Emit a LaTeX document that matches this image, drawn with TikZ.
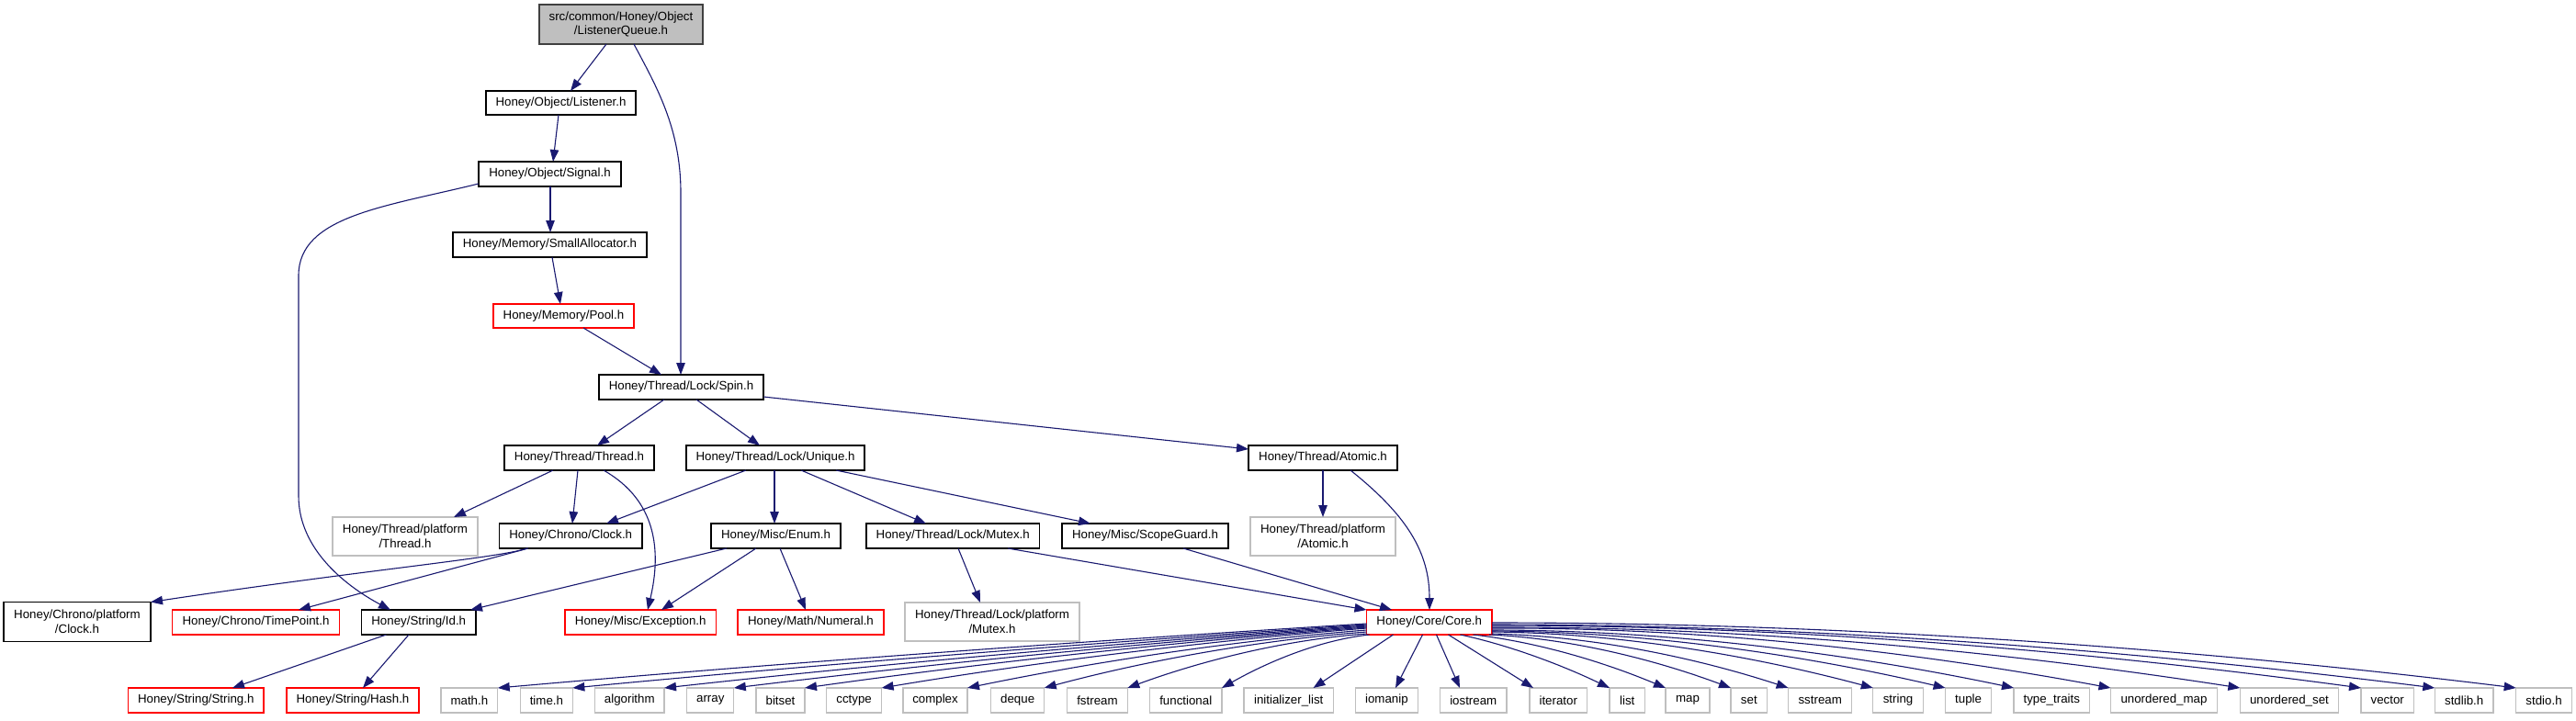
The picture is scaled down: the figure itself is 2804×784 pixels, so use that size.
\documentclass[tikz,border=0pt]{standalone}
\usepackage{fontspec}
\setmainfont{Liberation Sans}
\usetikzlibrary{arrows.meta,calc}
\definecolor{edgec}{HTML}{191970}
\definecolor{lgray}{HTML}{BFBFBF}
\definecolor{dgray}{HTML}{404040}
\definecolor{rboxc}{HTML}{FF0000}
\newcommand\nd[7]{\node[#6,minimum width={(#3-#2)*1pt},minimum height={(#5-#4)*1pt}] (#1) at ({(#2+#3)/2},{(#4+#5)/2}) {#7};}
\newcommand\fan[4]{\draw[edge] (#1) .. controls ($(#1)!0.35!(#2)+(0,-#3)$) and ($(#1)!0.7!(#2)+(0,-#4)$) .. (#2);}
\begin{document}
\begin{tikzpicture}[x=1pt,y=-1pt,
  base/.style={inner sep=0pt,outer sep=0pt,align=center,line width=1.3pt,fill=white,
    font=\fontsize{13.3}{15.6}\selectfont},
  box/.style={base,draw=black},
  gbox/.style={base,draw=lgray},
  rbox/.style={base,draw=rboxc},
  topbox/.style={base,draw=dgray,fill=lgray},
  edge/.style={draw=edgec,line width=1.1pt,-{Triangle[length=13pt,width=9.5pt]}}]
\fill[white] (0,0) rectangle (2804,784);
\useasboundingbox (0,0) rectangle (2804,784);
% nodes
\nd{lq}{587}{765}{5}{48}{topbox}{src/common/Honey/Object\\/ListenerQueue.h}
\nd{listener}{529}{692}{99}{125}{box}{Honey/Object/Listener.h}
\nd{signal}{521}{676}{176}{203}{box}{Honey/Object/Signal.h}
\nd{smalloc}{493}{704}{253}{280}{box}{Honey/Memory/SmallAllocator.h}
\nd{pool}{537}{690}{331}{357}{rbox}{Honey/Memory/Pool.h}
\nd{spin}{652}{831}{408}{435}{box}{Honey/Thread/Lock/Spin.h}
\nd{thread}{549}{712}{485}{512}{box}{Honey/Thread/Thread.h}
\nd{unique}{747}{941}{485}{512}{box}{Honey/Thread/Lock/Unique.h}
\nd{atomic}{1359}{1521}{485}{512}{box}{Honey/Thread/Atomic.h}
\nd{threadplat}{362}{520}{563}{605}{gbox}{Honey/Thread/platform\\/Thread.h}
\nd{clock}{543.5}{699}{570}{597}{box}{Honey/Chrono/Clock.h}
\nd{enum}{774}{915}{570}{597}{box}{Honey/Misc/Enum.h}
\nd{mutex}{943}{1131.5}{570}{597}{box}{Honey/Thread/Lock/Mutex.h}
\nd{scope}{1156}{1337}{570}{597}{box}{Honey/Misc/ScopeGuard.h}
\nd{atomicplat}{1361}{1519}{563}{605}{gbox}{Honey/Thread/platform\\/Atomic.h}
\nd{chronoplat}{4}{164}{655.5}{698.5}{box}{Honey/Chrono/platform\\/Clock.h}
\nd{timepoint}{187.5}{369.5}{664}{691}{rbox}{Honey/Chrono/TimePoint.h}
\nd{id}{393.5}{518}{664}{691}{box}{Honey/String/Id.h}
\nd{exception}{615}{779.5}{664}{691}{rbox}{Honey/Misc/Exception.h}
\nd{numeral}{803}{962}{664}{691}{rbox}{Honey/Math/Numeral.h}
\nd{mutexplat}{985}{1175}{656}{698}{gbox}{Honey/Thread/Lock/platform\\/Mutex.h}
\nd{core}{1487.5}{1624}{664}{691}{rbox}{Honey/Core/Core.h}
\nd{stringh}{139.5}{287}{749}{776}{rbox}{Honey/String/String.h}
\nd{hash}{312}{456}{749}{776}{rbox}{Honey/String/Hash.h}
\nd{math}{480}{541.7}{749}{776}{gbox}{math.h}
\nd{time}{566.5}{623.3}{749}{776}{gbox}{time.h}
\nd{algorithm}{647.6}{723}{749}{776}{gbox}{algorithm}
\nd{array}{747.7}{798.8}{749}{776}{gbox}{array}
\nd{bitset}{823}{876}{749}{776}{gbox}{bitset}
\nd{cctype}{899.6}{959.6}{749}{776}{gbox}{cctype}
\nd{complex}{983}{1053}{749}{776}{gbox}{complex}
\nd{deque}{1078.6}{1136.7}{749}{776}{gbox}{deque}
\nd{fstream}{1161.6}{1227.3}{749}{776}{gbox}{fstream}
\nd{functional}{1251.5}{1330}{749}{776}{gbox}{functional}
\nd{initlist}{1354}{1451.5}{749}{776}{gbox}{initializer\_list}
\nd{iomanip}{1475.5}{1543.3}{749}{776}{gbox}{iomanip}
\nd{iostream}{1567.5}{1640}{749}{776}{gbox}{iostream}
\nd{iterator}{1665}{1727.5}{749}{776}{gbox}{iterator}
\nd{list}{1752}{1790.5}{749}{776}{gbox}{list}
\nd{map}{1813}{1861}{749}{776}{gbox}{map}
\nd{set}{1884}{1923.6}{749}{776}{gbox}{set}
\nd{sstream}{1946.6}{2015.8}{749}{776}{gbox}{sstream}
\nd{string}{2038.8}{2093.3}{749}{776}{gbox}{string}
\nd{tuple}{2117.6}{2167.5}{749}{776}{gbox}{tuple}
\nd{typetraits}{2192}{2274.5}{749}{776}{gbox}{type\_traits}
\nd{umap}{2297.5}{2413.4}{749}{776}{gbox}{unordered\_map}
\nd{uset}{2438.4}{2545.5}{749}{776}{gbox}{unordered\_set}
\nd{vector}{2570}{2627.5}{749}{776}{gbox}{vector}
\nd{stdlib}{2650.3}{2714}{749}{776}{gbox}{stdlib.h}
\nd{stdio}{2738.7}{2799.4}{749}{776}{gbox}{stdio.h}
% edges
\draw[edge] ([xshift=73pt]lq.south west) -- ([xshift=92pt]listener.north west);
\draw[edge] ([xshift=103pt]lq.south west) .. controls (715,95) and (741,140) .. (741,210) -- ([xshift=89pt]spin.north west);
\draw[edge] ([xshift=79pt]listener.south west) -- ([xshift=81pt]signal.north west);
\draw[edge] ([xshift=78pt]signal.south west) -- ([xshift=106pt]smalloc.north west);
\draw[edge] ([yshift=3pt]signal.south west) .. controls (420,225) and (325,235) .. (325,300) -- (325,540) .. controls (325,600) and (380,640) .. ([xshift=31.5pt]id.north west);
\draw[edge] ([xshift=108pt]smalloc.south west) -- ([xshift=73pt]pool.north west);
\draw[edge] ([xshift=98pt]pool.south west) -- ([xshift=68pt]spin.north west);
\draw[edge] ([xshift=71pt]spin.south west) -- ([xshift=101pt]thread.north west);
\draw[edge] ([xshift=106pt]spin.south west) -- ([xshift=80pt]unique.north west);
\draw[edge] ([yshift=3pt]spin.south east) -- ([yshift=-4pt]atomic.north west);
\draw[edge] ([xshift=53pt]thread.south west) -- ([xshift=132pt]threadplat.north west);
\draw[edge] ([xshift=80pt]thread.south west) -- ([xshift=79.5pt]clock.north west);
\draw[edge] ([xshift=108pt]thread.south west) .. controls (715,545) and (720,600) .. ([xshift=90pt]exception.north west);
\draw[edge] ([xshift=65pt]unique.south west) -- ([xshift=116.5pt]clock.north west);
\draw[edge] ([xshift=96pt]unique.south west) -- ([xshift=69pt]enum.north west);
\draw[edge] ([xshift=125pt]unique.south west) -- ([xshift=65pt]mutex.north west);
\draw[edge] ([xshift=163pt]unique.south west) -- ([xshift=31pt]scope.north west);
\draw[edge] ([xshift=81pt]atomic.south west) -- ([xshift=79pt]atomicplat.north west);
\draw[edge] ([xshift=111pt]atomic.south west) .. controls (1530,560) and (1556,600) .. ([xshift=68.5pt]core.north west);
\draw[edge] ([xshift=30.5pt]clock.south west) .. controls (540,608) and (400,620) .. (chronoplat.north east);
\draw[edge] ([xshift=31.5pt]clock.south west) -- ([xshift=137.5pt]timepoint.north west);
\draw[edge] ([xshift=17pt]enum.south west) -- ([xshift=118.5pt]id.north west);
\draw[edge] ([xshift=49pt]enum.south west) -- ([xshift=105pt]exception.north west);
\draw[edge] ([xshift=75pt]enum.south west) -- ([xshift=74pt]numeral.north west);
\draw[edge] ([xshift=100pt]mutex.south west) -- ([xshift=82pt]mutexplat.north west);
\draw[edge] ([xshift=154pt]mutex.south west) -- (core.north west);
\draw[edge] ([xshift=132pt]scope.south west) -- ([xshift=27.5pt]core.north west);
\draw[edge] ([xshift=27pt]id.south west) -- ([xshift=113.5pt]stringh.north west);
\draw[edge] ([xshift=51.5pt]id.south west) -- ([xshift=83pt]hash.north west);
% Core fan-out start points on the Core box
\coordinate (cL12) at ([yshift=12pt]core.south west);
\coordinate (cL11) at ([yshift=11pt]core.south west);
\coordinate (cL10) at ([yshift=10pt]core.south west);
\coordinate (cL9) at ([yshift=9pt]core.south west);
\coordinate (cL8) at ([yshift=8pt]core.south west);
\coordinate (cL7) at ([yshift=7pt]core.south west);
\coordinate (cL5) at ([yshift=5pt]core.south west);
\coordinate (cL3) at ([yshift=3pt]core.south west);
\coordinate (cL1) at ([yshift=1pt]core.south west);
\coordinate (cB3) at ([xshift=3pt]core.south west);
\coordinate (cB102) at ([xshift=102pt]core.south west);
\coordinate (cB116) at ([xshift=116pt]core.south west);
\coordinate (cB133) at ([xshift=-3pt]core.south east);
\coordinate (cR1) at ([yshift=1pt]core.south east);
\coordinate (cR3) at ([yshift=3pt]core.south east);
\coordinate (cR4) at ([yshift=4pt]core.south east);
\coordinate (cR5) at ([yshift=5pt]core.south east);
\coordinate (cR7) at ([yshift=7pt]core.south east);
\coordinate (cR8) at ([yshift=8pt]core.south east);
\coordinate (cR10) at ([yshift=10pt]core.south east);
\coordinate (cR11) at ([yshift=11pt]core.south east);
\coordinate (cR13) at ([yshift=13pt]core.south east);
\fan{cL12}{math.north east}{4}{4}
\fan{cL11}{time.north east}{4}{4}
\fan{cL10}{algorithm.north east}{5}{5}
\fan{cL9}{array.north east}{6}{5}
\fan{cL8}{bitset.north east}{7}{6}
\fan{cL7}{cctype.north east}{8}{7}
\fan{cL5}{complex.north east}{10}{8}
\fan{cL3}{deque.north east}{12}{10}
\fan{cL1}{fstream.north east}{14}{11}
\fan{cB3}{functional.north east}{14}{10}
\draw[edge] ([xshift=29pt]core.south west) -- ([xshift=75.5pt]initlist.north west);
\draw[edge] ([xshift=61pt]core.south west) -- ([xshift=43.5pt]iomanip.north west);
\draw[edge] ([xshift=76pt]core.south west) -- ([xshift=21.5pt]iostream.north west);
\draw[edge] ([xshift=89pt]core.south west) -- ([xshift=4pt]iterator.north west);
\fan{cB102}{list.north west}{8}{6}
\fan{cB116}{map.north west}{12}{9}
\fan{cB133}{set.north west}{16}{12}
\fan{cR1}{sstream.north west}{18}{14}
\fan{cR3}{string.north west}{20}{15}
\fan{cR4}{tuple.north west}{21}{16}
\fan{cR5}{typetraits.north west}{22}{17}
\fan{cR7}{umap.north west}{24}{18}
\fan{cR8}{uset.north west}{24}{18}
\fan{cR10}{vector.north west}{24}{18}
\fan{cR11}{stdlib.north west}{24}{18}
\fan{cR13}{stdio.north west}{25}{20}
\end{tikzpicture}
\end{document}
